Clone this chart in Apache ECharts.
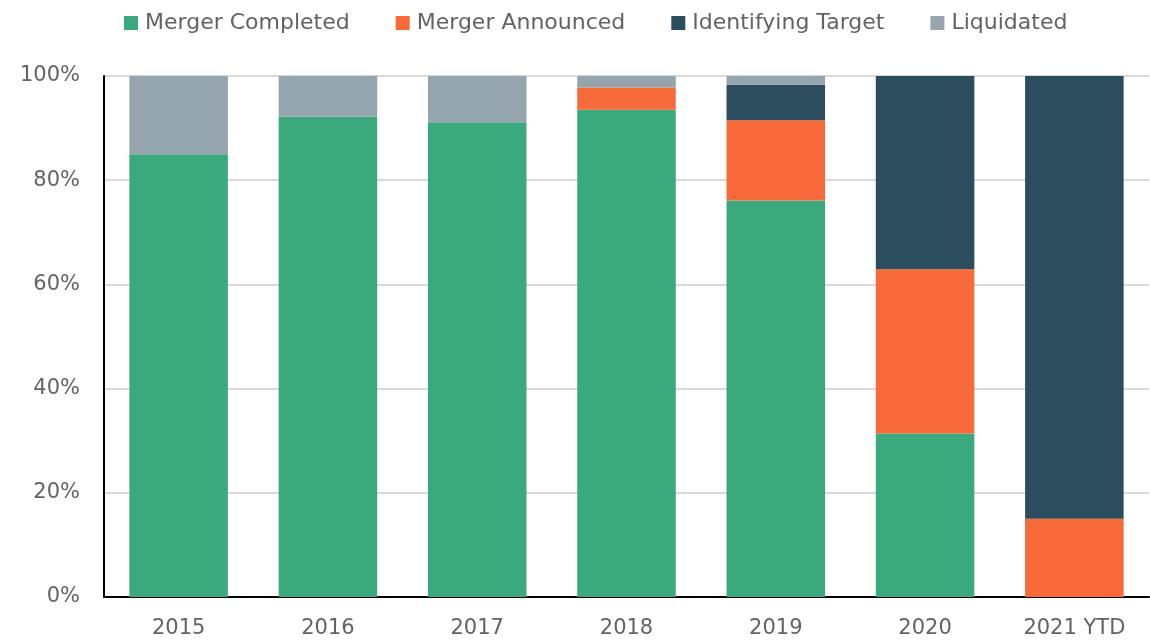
<!DOCTYPE html>
<html lang="en">
<head>
  <meta charset="utf-8" />
  <title>SPAC status by IPO year</title>
  <script src="https://cdn.jsdelivr.net/npm/echarts@6/dist/echarts.min.js"></script>
  <style>
    html, body { margin: 0; padding: 0; background: #fff; }
  </style>
</head>
<body>
  <div id="main" style="width: 1150px;height:640px;"></div>
  <script type="text/javascript">
    // categories and shares (%)
    var years = ['2015', '2016', '2017', '2018', '2019', '2020', '2021 YTD'];
    var mergerCompleted = [85.0, 92.2, 91.1, 93.5, 76.1, 31.4, 0];
    var mergerAnnounced = [0, 0, 0, 4.3, 15.4, 31.5, 15.0];
    var identifyingTarget = [0, 0, 0, 0, 6.8, 37.1, 85.0];
    var liquidated = [15.0, 7.8, 8.9, 2.2, 1.7, 0, 0];

    var seriesNames = ['Merger Completed', 'Merger Announced', 'Identifying Target', 'Liquidated'];
    var seriesData = [mergerCompleted, mergerAnnounced, identifyingTarget, liquidated];
    var colors = ['#3aaa7e', '#f96a3a', '#2c4d5e', '#95a5ae'];

    var myChart = echarts.init(document.getElementById('main'));

    var seriesList = [];
    seriesNames.forEach(function (name, i) {
      seriesList.push({
        name: name,
        type: 'bar',
        stack: 'total',
        barWidth: '66%',
        itemStyle: { color: colors[i] },
        data: seriesData[i]
      });
    });

    var option = {
      animation: false,
      textStyle: { fontFamily: 'DejaVu Sans' },
      legend: {
        top: 7,
        left: 119,
        itemWidth: 14,
        itemHeight: 14,
        itemGap: 46,
        icon: 'rect',
        textStyle: { fontSize: 22, color: '#636363', fontFamily: 'DejaVu Sans', padding: [0, 0, 0, 2] }
      },
      grid: {
        left: 104,
        right: 1,
        top: 76,
        bottom: 43
      },
      xAxis: {
        type: 'category',
        data: years,
        axisLine: { lineStyle: { color: '#000', width: 2 } },
        axisTick: { show: false },
        axisLabel: { fontSize: 21, color: '#636363', margin: 21 }
      },
      yAxis: {
        type: 'value',
        min: 0,
        max: 100,
        interval: 20,
        axisLine: { show: true, lineStyle: { color: '#000', width: 2 } },
        axisTick: { show: false },
        splitLine: { lineStyle: { color: '#d9d9d9', width: 2 } },
        axisLabel: { fontSize: 21, color: '#636363', margin: 24, formatter: '{value}%' }
      },
      series: seriesList
    };
    myChart.setOption(option);
  </script>
</body>
</html>
